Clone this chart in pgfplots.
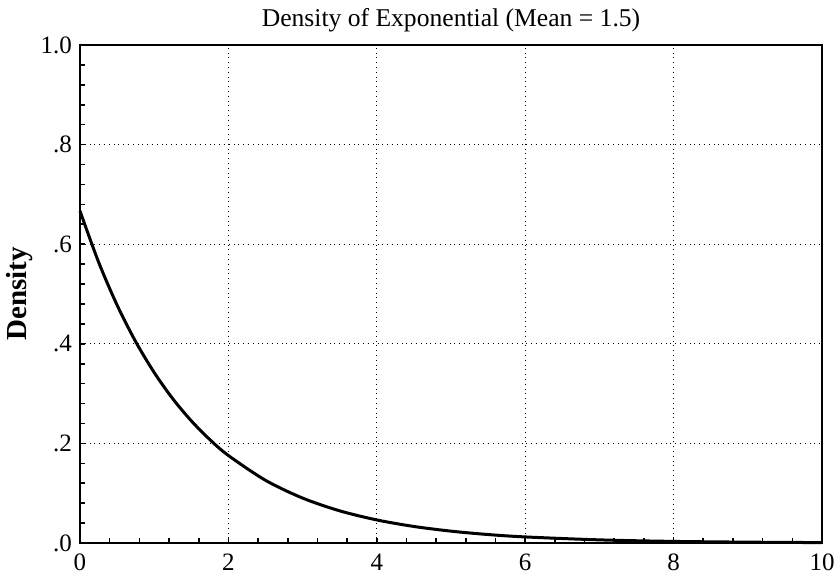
\documentclass[border=0pt]{standalone}
\usepackage{fontspec}
\setmainfont{Liberation Serif}
\usepackage{pgfplots}
\pgfplotsset{compat=1.18}
\begin{document}
\begin{tikzpicture}
\begin{axis}[
  at={(0,0)}, anchor=south west,
  scale only axis, width=371pt, height=249pt,
  xmin=0, xmax=10, ymin=0, ymax=1,
  xtick={0,2,4,6,8,10},
  ytick={0,0.2,0.4,0.6,0.8,1},
  yticklabels={.0,.2,.4,.6,.8,1.0},
  xticklabels={0,2,4,6,8,10},
  minor x tick num=4, minor y tick num=4,
  xtick pos=bottom, ytick pos=left,
  tick align=inside,
  major tick length=2.5pt, minor tick length=2.5pt,
  tick style={black, line width=0.8pt},
  grid=major,
  major grid style={black, dotted, line width=0.5pt},
  axis line style={line width=1pt},
  tick label style={font=\fontsize{12.5}{14}\selectfont},
  yticklabel style={xshift=-0.5pt},
  xticklabel style={yshift=-2pt},
  title={Density of Exponential (Mean = 1.5)},
  title style={font=\fontsize{12.8}{14}\selectfont, yshift=-3pt},
  ylabel={\textbf{Density}},
  ylabel style={font=\fontsize{14.5}{16}\selectfont, yshift=-3pt},
  clip=false,
]
\addplot[black, line width=1.5pt, smooth] coordinates {
(0,0.6667) (0.25,0.5643) (0.5,0.4777) (0.75,0.4044) (1.0,0.3423)
(1.25,0.2897) (1.5,0.2453) (1.75,0.2076) (2.0,0.1757) (2.5,0.1259)
(3.0,0.0902) (3.5,0.0646) (4.0,0.0463) (4.5,0.0332) (5.0,0.0238)
(5.5,0.0170) (6,0.0122) (7,0.0063) (8,0.0032) (9,0.0017) (10,0.0008)
};
\end{axis}
\pgfresetboundingbox
\path[use as bounding box] (-40pt,-15.5pt) rectangle (378pt,271.5pt);
\end{tikzpicture}
\end{document}
